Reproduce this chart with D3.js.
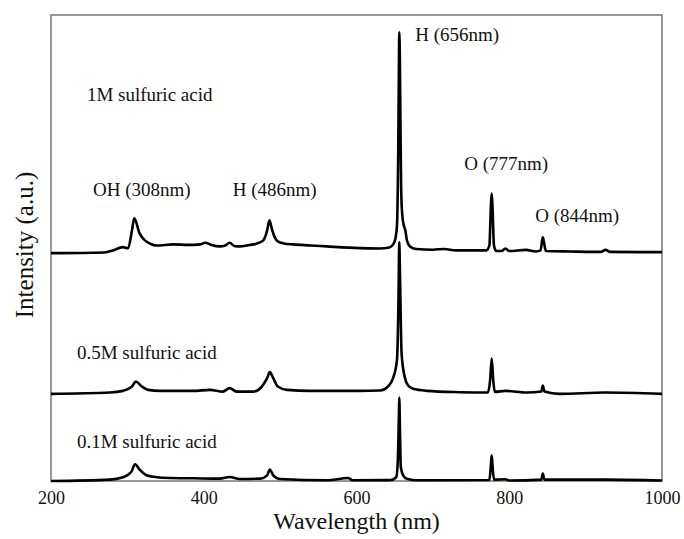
<!DOCTYPE html>
<html>
<head>
<meta charset="utf-8">
<script src="https://d3js.org/d3.v7.min.js"></script>
<style>
  body { margin: 0; background: #fff; }
  text { font-family: "Liberation Serif", "Times New Roman", serif; fill: #111; }
</style>
</head>
<body>
<div id="graph"></div>
<script>
// emission spectra (intensity in a.u. above each curve's own baseline)
var wave1M = [200, 270, 281, 294, 301, 306, 309, 316, 323, 330, 338, 360, 380, 395, 402, 410, 421, 428, 434, 440, 447, 460, 469, 478, 483, 486, 489, 492, 497, 505, 517, 540, 561, 604, 630, 643, 648, 651, 653, 654.5, 655.5, 656, 656.8, 657.5, 658.5, 660, 662, 664, 666, 670, 678, 700, 715, 730, 770, 774, 776, 777, 778, 780, 783, 790, 795, 800, 822, 835, 841, 843, 844, 845.5, 848, 880, 920, 926, 932, 1000];
var int1M = [0, 0.15, 0.58, 1.29, 1.07, 4.87, 7.45, 4.23, 2.73, 2.02, 1.65, 1.87, 1.76, 1.87, 2.23, 1.76, 1.44, 1.65, 2.23, 1.55, 1.44, 1.76, 2.02, 2.73, 4.87, 7.02, 5.3, 3.8, 2.51, 2.08, 1.87, 1.65, 1.44, 1.07, 1.0, 1.22, 1.87, 3.15, 5.94, 19.9, 39.2, 47.4, 41.4, 28.5, 13.5, 8.1, 5.94, 4.87, 2.73, 1.44, 0.9, 0.73, 0.9, 0.58, 0.58, 1.65, 10.2, 12.8, 10.2, 1.65, 0.47, 0.47, 1.0, 0.47, 0.69, 0.36, 0.58, 2.73, 3.37, 2.3, 0.47, 0.36, 0.26, 0.69, 0.26, 0.21];

var wave05M = [200, 277, 294, 306, 311, 319, 327, 343, 386, 408, 425, 434, 443, 465, 476, 483, 486.5, 491, 497, 509, 539, 604, 631, 641, 648, 653, 655, 656, 657, 659, 663, 667, 674, 692, 735, 772, 775, 777, 779, 781, 795, 823, 842, 844, 846, 866, 926, 1000];
var int05M = [0, 0.28, 0.64, 1.57, 2.64, 1.57, 0.86, 0.64, 0.64, 0.86, 0.49, 1.22, 0.49, 0.49, 1.57, 3.37, 4.66, 3.37, 1.57, 0.86, 0.64, 0.64, 0.71, 1.57, 3.43, 7.3, 20.6, 32.6, 25, 8.8, 3.71, 1.93, 1.07, 0.64, 0.36, 0.28, 3, 7.6, 3, 0.43, 0.64, 0.28, 0.5, 1.78, 0.5, 0, 0.28, 0];

var wave01M = [200, 277, 293, 305, 310, 316, 325, 336, 356, 386, 421, 434, 447, 474, 483, 486.5, 491, 500, 561, 589, 595, 645, 652, 654, 655.5, 656, 657, 658, 661, 666, 680, 774, 776, 777, 778, 780, 795, 800, 842, 844, 846, 926, 1000];
var int01M = [0, 0.3, 0.73, 1.93, 3.58, 2.47, 1.22, 0.86, 0.64, 0.58, 0.51, 0.86, 0.43, 0.51, 1.22, 2.47, 1.22, 0.43, 0.15, 0.64, 0.15, 0.2, 0.8, 4, 14, 17.9, 10, 3, 1.22, 0.5, 0.15, 0.2, 3.5, 5.5, 3.5, 0.3, 0.36, 0.1, 0.3, 1.59, 0.3, 0.3, 0.1];

// vertical shift of each curve (a.u.)
var offsets = [48.9, 18.7, 0];

var xTicks = [200, 400, 600, 800, 1000];

var labelText = ["1M sulfuric acid", "OH (308nm)", "H (486nm)", "H (656nm)", "O (777nm)", "O (844nm)", "0.5M sulfuric acid", "0.1M sulfuric acid"];
// where the labels sit, in data units (wavelength, a.u.)
var labelX = [247, 255, 438, 677, 741, 834, 234, 234];
var labelY = [81.5, 61.2, 61.2, 94.4, 66.7, 55.6, 26.2, 7.1];

const fullwidth = 684;
const fullheight = 539;
const padLeft = 51, padRight = 662, padTop = 15, padBottom = 481;

var xScale = d3.scaleLinear().domain([200, 1000]).range([padLeft, padRight]);
var yScale = d3.scaleLinear().domain([0, 100]).range([padBottom, padTop]);

var svg = d3.select("#graph").append("svg")
  .attr("width", fullwidth)
  .attr("height", fullheight);

var series = [
  {w: wave1M, v: int1M, off: offsets[0]},
  {w: wave05M, v: int05M, off: offsets[1]},
  {w: wave01M, v: int01M, off: offsets[2]}
];

// frame
svg.append("rect")
  .attr("x", padLeft).attr("y", padTop)
  .attr("width", padRight - padLeft).attr("height", padBottom - padTop)
  .attr("fill", "none")
  .attr("stroke", "#777")
  .attr("stroke-width", 1.5);

var line = d3.line()
  .x(d => xScale(d[0]))
  .y(d => yScale(d[1]))
  .curve(d3.curveMonotoneX);

series.forEach(function(s) {
  var pts = s.w.map((w, i) => [w, s.v[i] + s.off]);
  svg.append("path")
    .datum(pts)
    .attr("d", line)
    .attr("fill", "none")
    .attr("stroke", "#000")
    .attr("stroke-width", 2.6)
    .attr("stroke-linejoin", "round");
});

// x axis labels only
var xAxis = d3.axisBottom(xScale).tickValues(xTicks).tickFormat(d3.format("d")).tickSize(0).tickPadding(10);
var gx = svg.append("g")
  .attr("transform", "translate(0," + padBottom + ")")
  .call(xAxis);
gx.select(".domain").remove();
gx.selectAll("text")
  .style("font-family", '"Liberation Serif", "Times New Roman", serif')
  .style("font-size", "18px")
  .attr("fill", "#111");

svg.append("text")
  .attr("x", (padLeft + padRight) / 2)
  .attr("y", 529)
  .attr("text-anchor", "middle")
  .style("font-size", "24px")
  .text("Wavelength (nm)");

svg.append("text")
  .attr("transform", "translate(33,245) rotate(-90)")
  .attr("text-anchor", "middle")
  .style("font-size", "25px")
  .text("Intensity (a.u.)");

svg.selectAll(".peaklabel")
  .data(labelText)
  .enter().append("text")
  .attr("class", "peaklabel")
  .attr("x", (d, i) => xScale(labelX[i]))
  .attr("y", (d, i) => yScale(labelY[i]))
  .style("font-size", "19px")
  .text(d => d);
</script>
</body>
</html>
